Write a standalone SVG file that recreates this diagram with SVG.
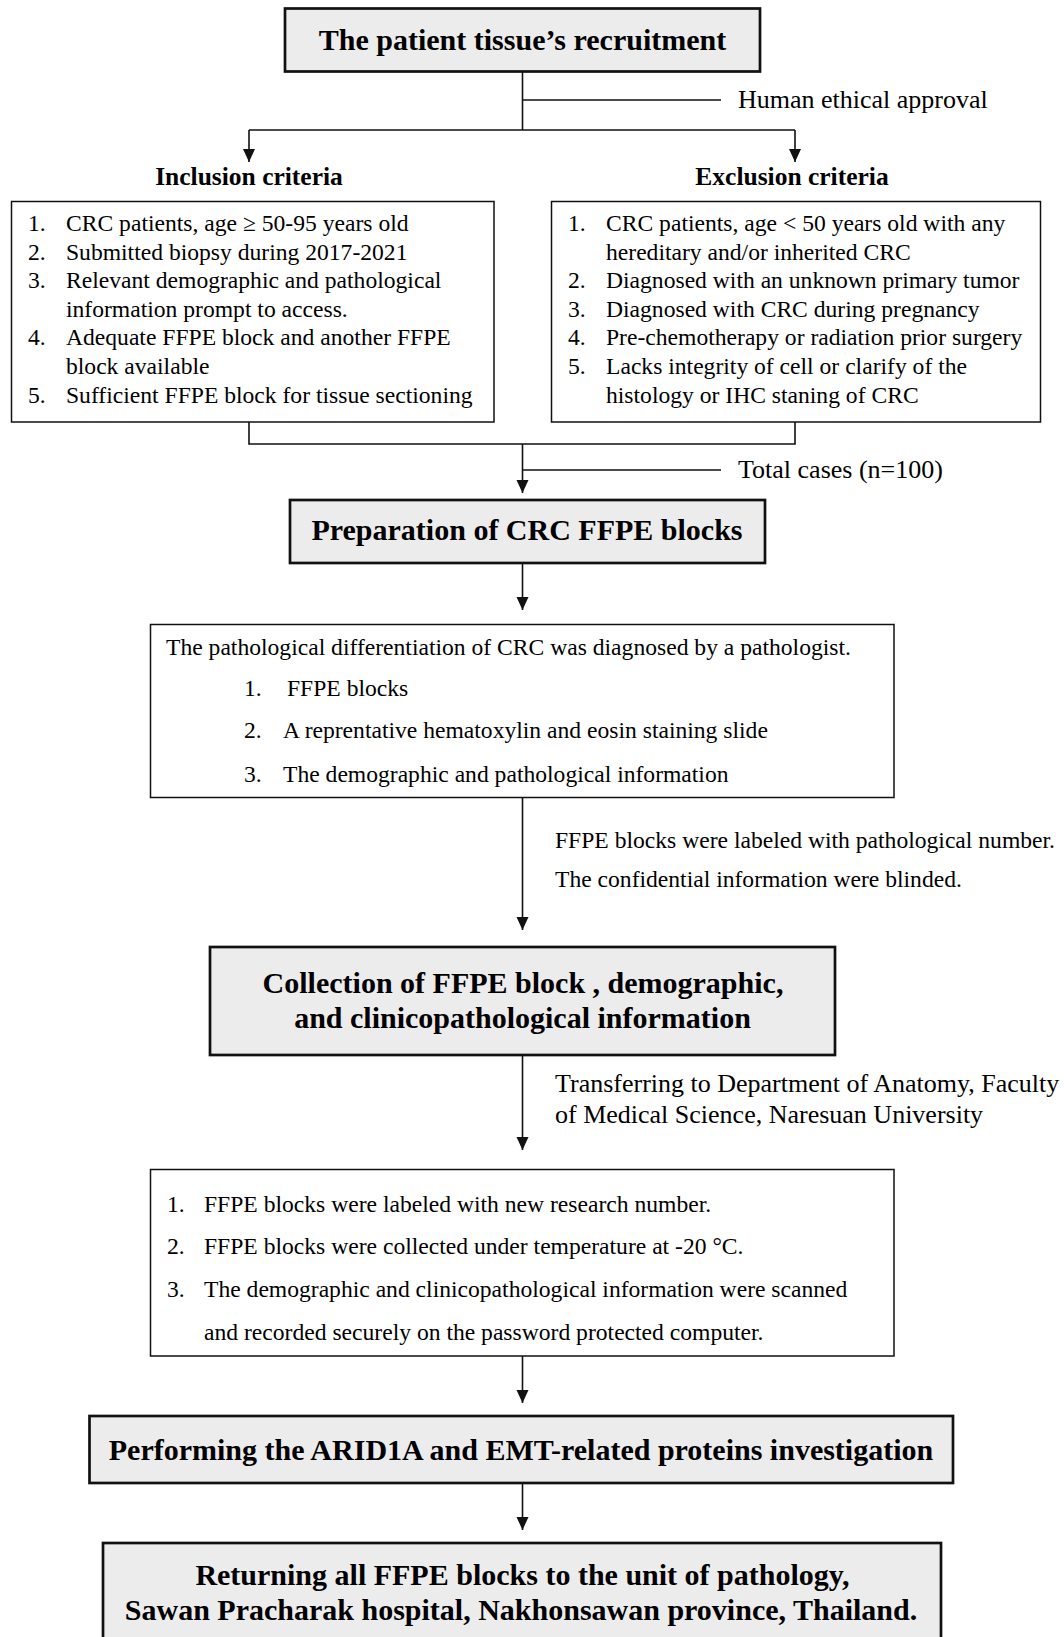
<svg xmlns="http://www.w3.org/2000/svg" width="1064" height="1637" viewBox="0 0 1064 1637">
  <style>
    text { font-family: "Liberation Serif", "Times New Roman", serif; fill: #000; }
    .hd { font-weight: bold; font-size: 30px; text-anchor: middle; }
    .sub { font-weight: bold; font-size: 25.5px; }
    .bd { font-size: 23.6px; }
    .lb { font-size: 26px; }
    .major { fill: #ececec; stroke: #111; stroke-width: 2.7; }
    .minor { fill: #fff; stroke: #111; stroke-width: 1.5; }
    .ln { fill: none; stroke: #111; stroke-width: 1.6; }
    .ar { fill: none; stroke: #111; stroke-width: 1.6; marker-end: url(#ah); }
  </style>
  <defs>
    <marker id="ah" markerUnits="userSpaceOnUse" markerWidth="13" markerHeight="14" refX="13" refY="6" orient="auto" viewBox="0 0 13 12">
      <path d="M0,0 L13,6 L0,12 Z" fill="#111"/>
    </marker>
  </defs>

  <rect width="1064" height="1637" fill="#fff"/>

  <g id="connectors">
    <path class="ln" d="M522.5,71.5 V130"/>
    <path class="ln" d="M522.5,100 H721"/>
    <path class="ln" d="M249,130 H795"/>
    <path class="ar" d="M249,130 V162"/>
    <path class="ar" d="M795,130 V162"/>
    <path class="ln" d="M249,422 V444 H795 V422"/>
    <path class="ar" d="M522.5,444 V493"/>
    <path class="ln" d="M522.5,470 H721"/>
    <path class="ar" d="M522.5,563 V610"/>
    <path class="ar" d="M522.5,797.5 V930"/>
    <path class="ar" d="M522.5,1055 V1150"/>
    <path class="ar" d="M522.5,1356 V1403"/>
    <path class="ar" d="M522.5,1483 V1530"/>
  </g>

  <g id="labels">
    <text class="lb" x="738" y="108">Human ethical approval</text>
    <text class="sub" x="249" y="185" text-anchor="middle">Inclusion criteria</text>
    <text class="sub" x="792" y="185" text-anchor="middle">Exclusion criteria</text>
    <text class="lb" x="738" y="478">Total cases (n=100)</text>
    <text class="bd" x="555" y="848">FFPE blocks were labeled with pathological number.</text>
    <text class="bd" x="555" y="887">The confidential information were blinded.</text>
    <text class="lb" x="555" y="1092">Transferring to Department of Anatomy, Faculty</text>
    <text class="lb" x="555" y="1123">of Medical Science, Naresuan University</text>
  </g>

  <g id="node-recruitment">
    <rect class="major" x="285" y="8.5" width="475" height="63"/>
    <text class="hd" x="522.5" y="50">The patient tissue’s recruitment</text>
  </g>

  <g id="node-inclusion">
    <rect class="minor" x="11.5" y="201.5" width="482.5" height="220.5"/>
    <text class="bd" x="28" y="231">1.</text>
    <text class="bd" x="66" y="231">CRC patients, age ≥ 50-95 years old</text>
    <text class="bd" x="28" y="259.6">2.</text>
    <text class="bd" x="66" y="259.6">Submitted biopsy during 2017-2021</text>
    <text class="bd" x="28" y="288.2">3.</text>
    <text class="bd" x="66" y="288.2">Relevant demographic and pathological</text>
    <text class="bd" x="66" y="316.8">information prompt to access.</text>
    <text class="bd" x="28" y="345.4">4.</text>
    <text class="bd" x="66" y="345.4">Adequate FFPE block and another FFPE</text>
    <text class="bd" x="66" y="374">block available</text>
    <text class="bd" x="28" y="402.6">5.</text>
    <text class="bd" x="66" y="402.6">Sufficient FFPE block for tissue sectioning</text>
  </g>

  <g id="node-exclusion">
    <rect class="minor" x="551.5" y="201.5" width="489" height="220.5"/>
    <text class="bd" x="568" y="231">1.</text>
    <text class="bd" x="606" y="231">CRC patients, age &lt; 50 years old with any</text>
    <text class="bd" x="606" y="259.6">hereditary and/or inherited CRC</text>
    <text class="bd" x="568" y="288.2">2.</text>
    <text class="bd" x="606" y="288.2">Diagnosed with an unknown primary tumor</text>
    <text class="bd" x="568" y="316.8">3.</text>
    <text class="bd" x="606" y="316.8">Diagnosed with CRC during pregnancy</text>
    <text class="bd" x="568" y="345.4">4.</text>
    <text class="bd" x="606" y="345.4">Pre-chemotherapy or radiation prior surgery</text>
    <text class="bd" x="568" y="374">5.</text>
    <text class="bd" x="606" y="374">Lacks integrity of cell or clarify of the</text>
    <text class="bd" x="606" y="402.6">histology or IHC staning of CRC</text>
  </g>

  <g id="node-preparation">
    <rect class="major" x="290" y="500" width="475" height="63"/>
    <text class="hd" x="527" y="540">Preparation of CRC FFPE blocks</text>
  </g>

  <g id="node-diagnosis">
    <rect class="minor" x="150.5" y="624.5" width="743.5" height="173"/>
    <text class="bd" x="166" y="655">The pathological differentiation of CRC was diagnosed by a pathologist.</text>
    <text class="bd" x="244" y="696">1.</text>
    <text class="bd" x="287" y="696">FFPE blocks</text>
    <text class="bd" x="244" y="738">2.</text>
    <text class="bd" x="283" y="738">A reprentative hematoxylin and eosin staining slide</text>
    <text class="bd" x="244" y="782">3.</text>
    <text class="bd" x="283" y="782">The demographic and pathological information</text>
  </g>

  <g id="node-collection">
    <rect class="major" x="210" y="947" width="625" height="108"/>
    <text class="hd" x="523" y="993">Collection of FFPE block , demographic,</text>
    <text class="hd" x="522.5" y="1028">and clinicopathological information</text>
  </g>

  <g id="node-storage">
    <rect class="minor" x="150.5" y="1169.5" width="743.5" height="186.5"/>
    <text class="bd" x="167" y="1212">1.</text>
    <text class="bd" x="204" y="1212">FFPE blocks were labeled with new research number.</text>
    <text class="bd" x="167" y="1254">2.</text>
    <text class="bd" x="204" y="1254">FFPE blocks were collected under temperature at -20 °C.</text>
    <text class="bd" x="167" y="1297">3.</text>
    <text class="bd" x="204" y="1297">The demographic and clinicopathological information were scanned</text>
    <text class="bd" x="204" y="1340">and recorded securely on the password protected computer.</text>
  </g>

  <g id="node-investigation">
    <rect class="major" x="89.5" y="1416" width="863.5" height="67"/>
    <text class="hd" x="521" y="1460">Performing the ARID1A and EMT-related proteins investigation</text>
  </g>

  <g id="node-returning">
    <rect class="major" x="103" y="1543" width="838" height="110"/>
    <text class="hd" x="522.5" y="1585">Returning all FFPE blocks to the unit of pathology,</text>
    <text class="hd" x="521" y="1620">Sawan Pracharak hospital, Nakhonsawan province, Thailand.</text>
  </g>
</svg>
